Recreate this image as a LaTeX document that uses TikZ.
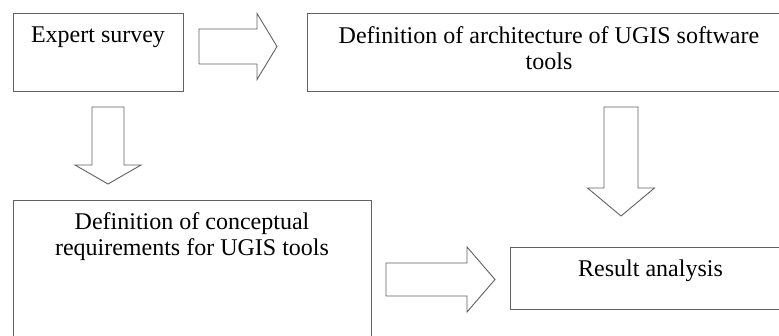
\documentclass[tikz,border=0pt]{standalone}
\usepackage{fontspec}
\setmainfont{Liberation Serif}
\newcommand\myRArrow[6]{% x start, x tip, y centre, shaft half, head half, head length
  \draw[blockarr] (#1,#3-#4) -- (#2-#6,#3-#4) -- (#2-#6,#3-#5) -- (#2,#3)
    -- (#2-#6,#3+#5) -- (#2-#6,#3+#4) -- (#1,#3+#4) -- cycle;}
\newcommand\myDArrow[6]{% x centre, y start, y tip, shaft half, head half, head length
  \draw[blockarr] (#1-#4,#2) -- (#1+#4,#2) -- (#1+#4,#3-#6) -- (#1+#5,#3-#6)
    -- (#1,#3) -- (#1-#5,#3-#6) -- (#1-#4,#3-#6) -- cycle;}
\tikzset{
  boxnode/.style={draw=black!62, line width=0.9pt, rectangle, anchor=north west, inner sep=0pt, outer sep=0pt},
  txtnode/.style={anchor=north, inner sep=0pt, outer sep=0pt, align=center, text=black,
    font=\fontsize{24}{26}\selectfont},
  blockarr/.style={draw=black!62, line width=0.9pt, fill=white, line join=miter}
}
\begin{document}
\begin{tikzpicture}[x=1pt, y=-1pt]
\useasboundingbox (0,0) rectangle (779,335);
\clip (0,0) rectangle (779,335);
\fill[white] (0,0) rectangle (779,335);
% boxes
\node[boxnode, minimum width=170pt, minimum height=78pt] (es) at (13,13) {};
\node[boxnode, minimum width=484pt, minimum height=78pt] (arch) at (307,13) {};
\node[boxnode, minimum width=358pt, minimum height=150pt] (concept) at (13,200) {};
\node[boxnode, minimum width=281pt, minimum height=62pt] (res) at (510,247) {};
% texts
\node[txtnode] (estxt) at ([yshift=-14pt]es.north) {Expert survey};
\node[txtnode] (archtxt) at ([yshift=-13.5pt]arch.north) {Definition of architecture of UGIS software\\tools};
\node[txtnode] (concepttxt) at ([yshift=-13pt]concept.north) {Definition of conceptual\\requirements for UGIS tools};
\node[txtnode] (restxt) at ([yshift=-13pt]res.north) {Result analysis};
% block arrows
\myRArrow{199}{277}{46.5}{17.5}{33}{20}
\myRArrow{386}{495}{279.5}{16.5}{32.5}{28}
\myDArrow{108}{107}{184}{16}{33}{19}
\myDArrow{621}{107}{216}{17}{33.5}{28}
\end{tikzpicture}
\end{document}
